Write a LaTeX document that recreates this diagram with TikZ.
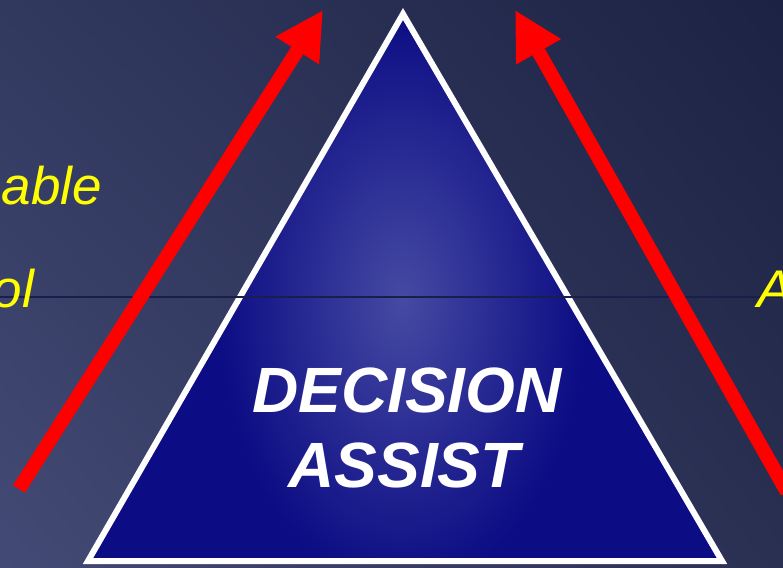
\documentclass[tikz,border=0pt]{standalone}
\usepackage{fontspec}
\setmainfont{Liberation Sans}
\usetikzlibrary{arrows.meta,shadings}
\definecolor{bgUL}{HTML}{32395F}
\definecolor{bgLL}{HTML}{434A75}
\definecolor{bgUR}{HTML}{1C2243}
\definecolor{bgLR}{HTML}{2A3052}
\definecolor{triDark}{HTML}{0C0C84}
\definecolor{triLight}{HTML}{464AA2}
\definecolor{hline}{HTML}{1A1E4C}
\definecolor{arrowred}{HTML}{FF0000}
\definecolor{sideyellow}{HTML}{FFFF00}
\tikzset{
  redarrow/.style={draw=arrowred, line width=14pt, -{Triangle[length=48pt,width=48pt]}},
  sidetext/.style={text=sideyellow, inner sep=0pt, font=\fontsize{53}{60}\selectfont\itshape},
  titletext/.style={text=white, inner sep=0pt, font=\fontsize{64}{72}\selectfont\bfseries\itshape},
  triborder/.style={draw=white, line width=6pt, line join=miter, miter limit=10}
}
\begin{document}
\begin{tikzpicture}[x=1pt,y=-1pt]
\useasboundingbox (0,0) rectangle (783,567);
\clip (0,0) rectangle (783,567);
% background
\shade[upper left=bgUL, upper right=bgUR, lower left=bgLL, lower right=bgLR] (0,0) rectangle (783,567);
% triangle
\coordinate (apex) at (403,14);
\coordinate (bl) at (88,561);
\coordinate (br) at (722,561);
\fill[triDark] (apex) -- (bl) -- (br) -- cycle;
\begin{scope}
  \clip (apex) -- (bl) -- (br) -- cycle;
  \shade[inner color=triLight, outer color=triDark] (402,300) ellipse [x radius=185, y radius=290];
\end{scope}
\draw[triborder] (apex) -- (bl) -- (br) -- cycle;
% horizontal line
\coordinate (hl0) at (0,297);
\coordinate (hl1) at (783,297);
\draw[hline, line width=1.2pt] (hl0) -- (hl1);
% arrows
\coordinate (la0) at (19,489);
\coordinate (la1) at (323,10);
\coordinate (ra0) at (787,492);
\coordinate (ra1) at (515,10);
\draw[redarrow] (la0) -- (la1);
\draw[redarrow] (ra0) -- (ra1);
% side texts
\node[sidetext, anchor=base east] (t1) at (102,204) {able};
\node[sidetext, anchor=base east] (t2) at (34,307) {ol};
\node[sidetext, anchor=base west] (t3) at (757,307) {A};
% title
\node[titletext, anchor=base] (d1) at (407,412) {DECISION};
\node[titletext, anchor=base] (d2) at (404,487) {ASSIST};
\end{tikzpicture}
\end{document}
